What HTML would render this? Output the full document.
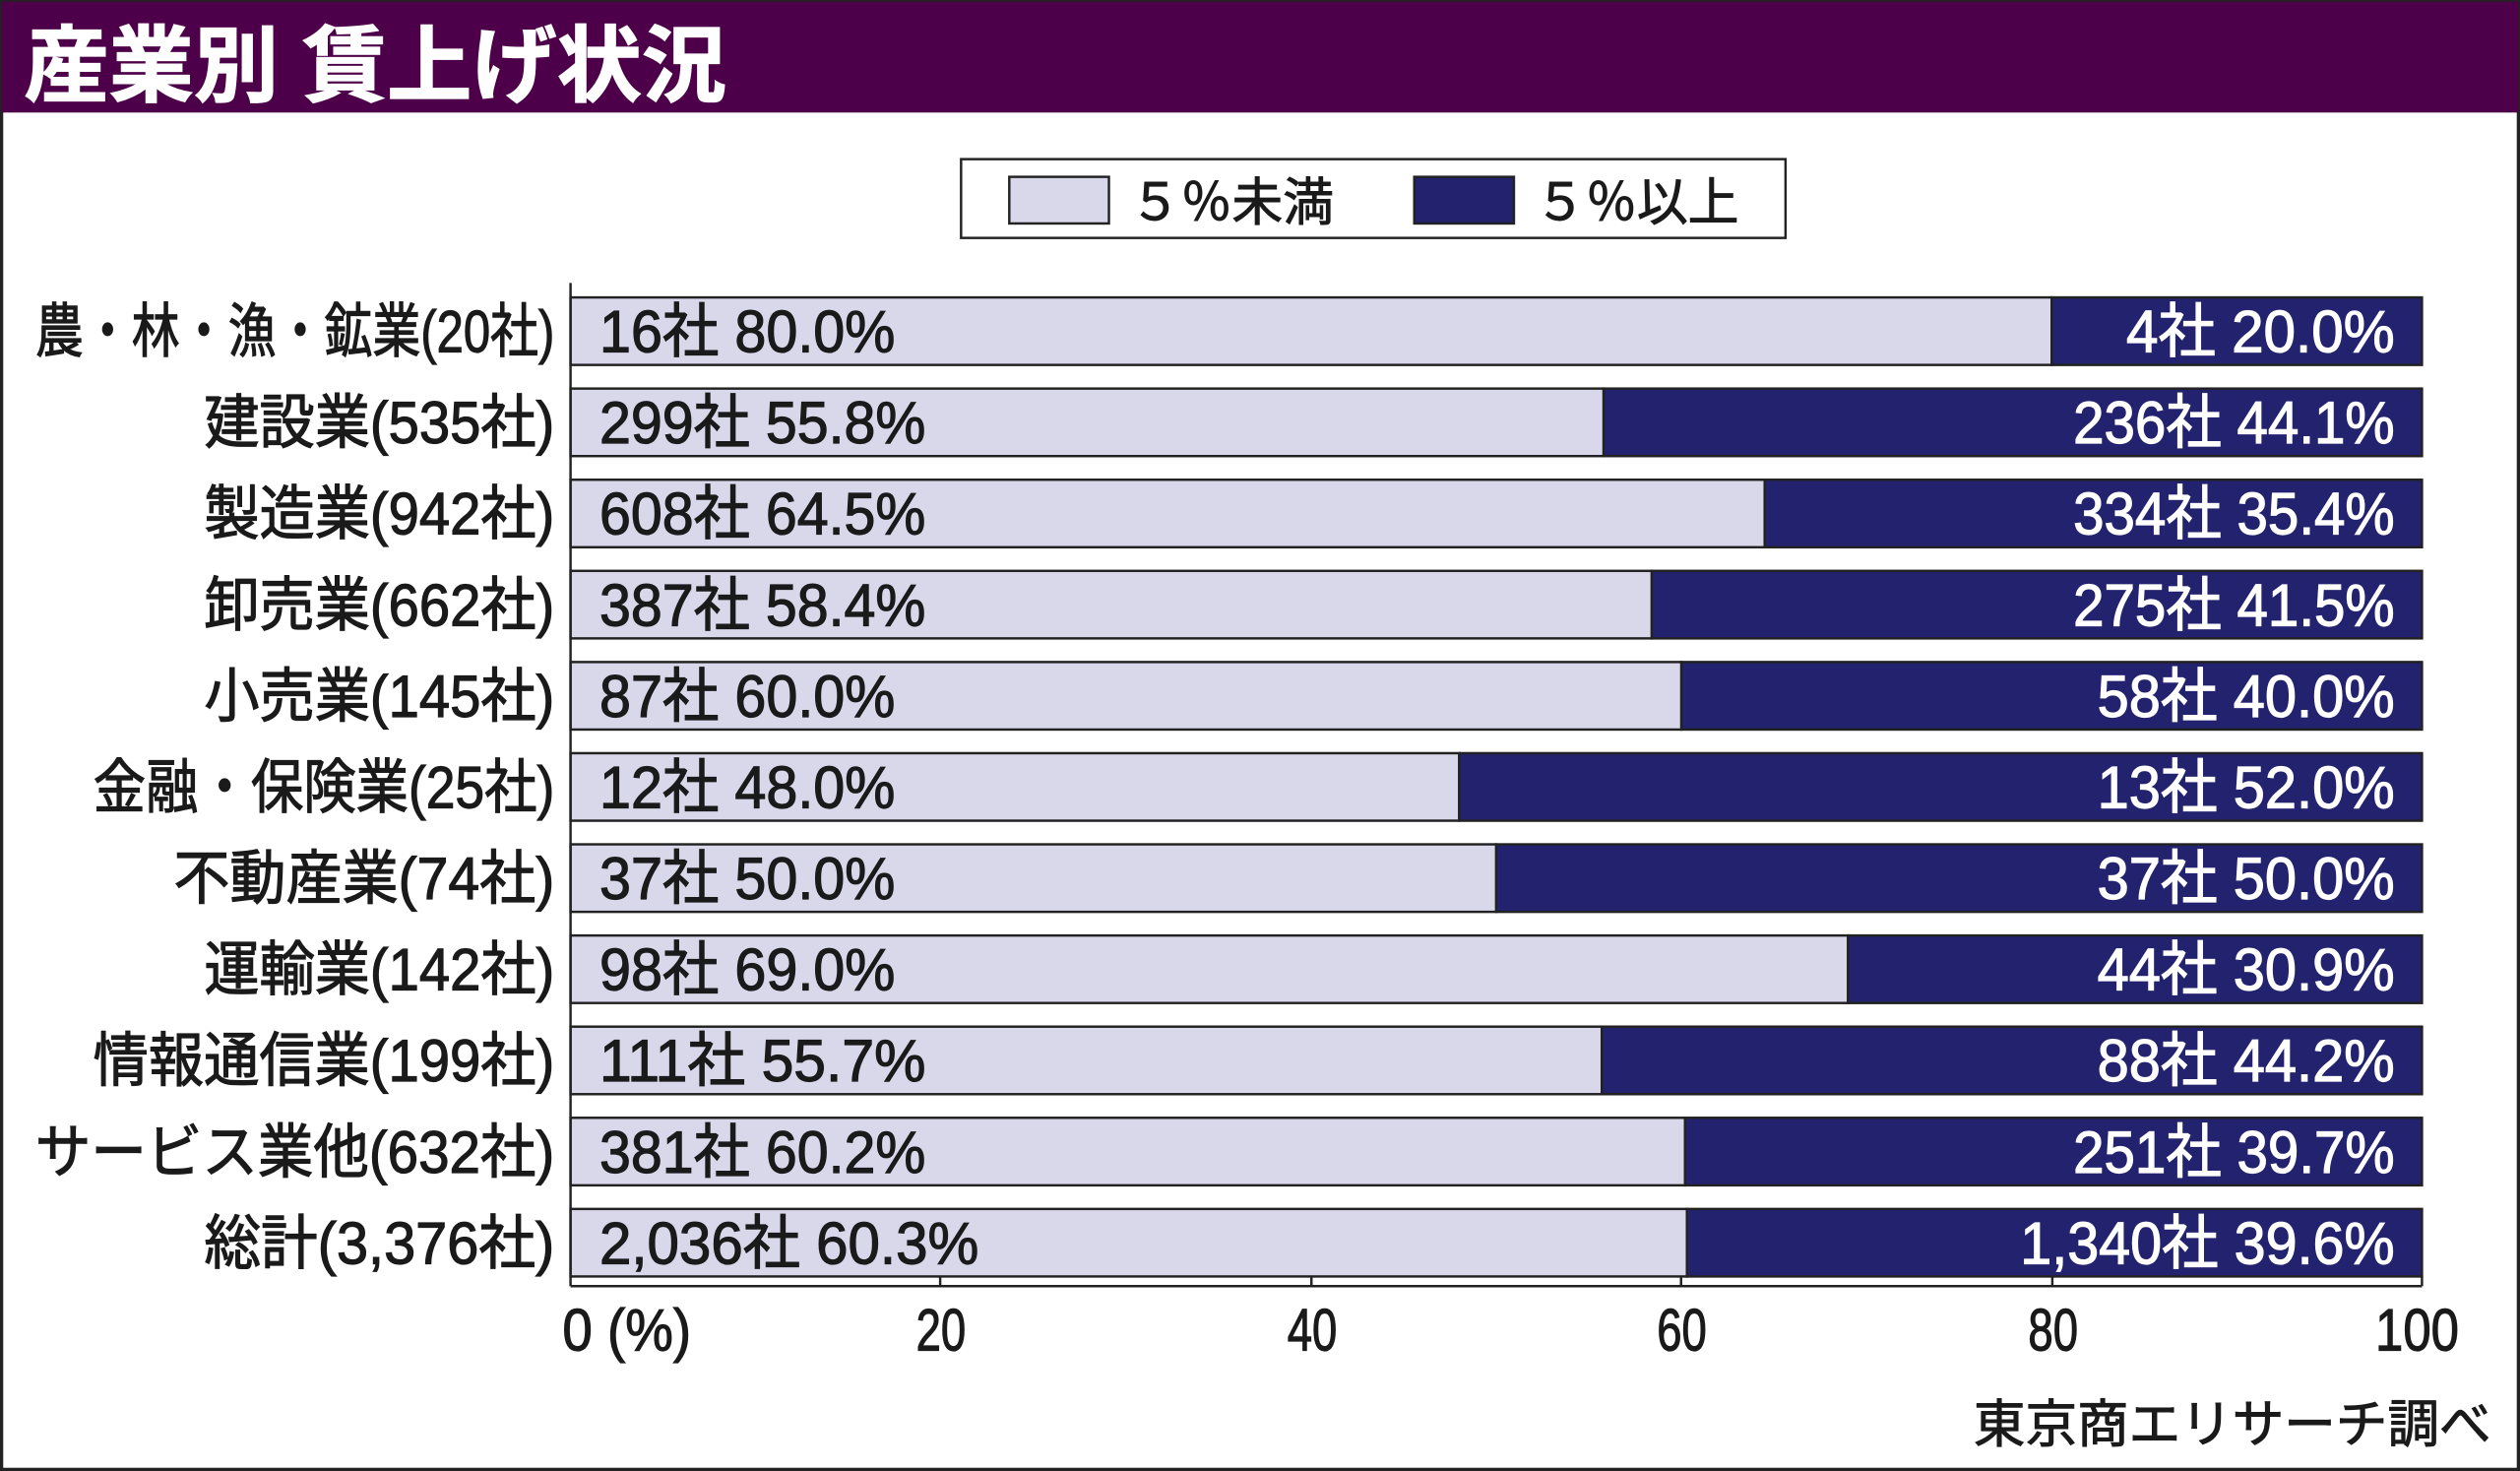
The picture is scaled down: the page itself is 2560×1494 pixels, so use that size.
<!DOCTYPE html>
<html><head><meta charset="utf-8"><style>
html,body{margin:0;padding:0;background:#fff}
svg{display:block}
text{font-family:"Liberation Sans","Noto Sans CJK JP",sans-serif}
</style></head><body>
<svg width="2560" height="1494" viewBox="0 0 1568 915" preserveAspectRatio="none" xmlns="http://www.w3.org/2000/svg">
<rect x="1" y="1" width="1566" height="913" fill="#fff" stroke="#222" stroke-width="2"/>
<rect x="1" y="1" width="1566" height="69" fill="#4d0049"/>
<text x="15" y="59" font-size="52" font-weight="bold" fill="#fff" stroke="#fff" stroke-width="0.8" textLength="437" lengthAdjust="spacingAndGlyphs">産業別 賃上げ状況</text>
<rect x="598" y="99" width="513" height="49" fill="#fff" stroke="#222" stroke-width="1.5"/>
<rect x="628" y="110" width="62" height="29" fill="#d9d7ea" stroke="#222" stroke-width="1.5"/>
<rect x="880" y="110" width="62" height="29" fill="#22226f" stroke="#222" stroke-width="1.5"/>
<g stroke="#1a1a1a" stroke-width="0.6">
<text x="703" y="137" font-size="32" fill="#1a1a1a" textLength="127" lengthAdjust="spacingAndGlyphs">５％未満</text>
<text x="955" y="137" font-size="32" fill="#1a1a1a" textLength="127" lengthAdjust="spacingAndGlyphs">５％以上</text>
</g>
<g id="bars" stroke="#222" stroke-width="1.5"></g>
<g id="lbl" font-size="37" fill="#1a1a1a" stroke="#1a1a1a" stroke-width="0.7"></g>
<line x1="355" y1="176" x2="355" y2="800" stroke="#222" stroke-width="1.5"/>
<line x1="355" y1="800" x2="1507" y2="800" stroke="#222" stroke-width="1.5"/>
<line x1="1507" y1="794" x2="1507" y2="800" stroke="#222" stroke-width="1.5"/>
<g stroke="#222" stroke-width="1.5">
<line x1="585" y1="794" x2="585" y2="800"/><line x1="816" y1="794" x2="816" y2="800"/>
<line x1="1046" y1="794" x2="1046" y2="800"/><line x1="1277" y1="794" x2="1277" y2="800"/>
</g>
<g font-size="37" fill="#1a1a1a" stroke="#1a1a1a" stroke-width="0.7">
<text x="350" y="840" textLength="80" lengthAdjust="spacingAndGlyphs">0 (%)</text>
<text x="570" y="840" textLength="31" lengthAdjust="spacingAndGlyphs">20</text>
<text x="801" y="840" textLength="31" lengthAdjust="spacingAndGlyphs">40</text>
<text x="1031" y="840" textLength="31" lengthAdjust="spacingAndGlyphs">60</text>
<text x="1262" y="840" textLength="31" lengthAdjust="spacingAndGlyphs">80</text>
<text x="1478" y="840" textLength="52" lengthAdjust="spacingAndGlyphs">100</text>
</g>
<text x="1228" y="897" font-size="32" fill="#1a1a1a" stroke="#1a1a1a" stroke-width="0.6" textLength="322" lengthAdjust="spacingAndGlyphs">東京商エリサーチ調べ</text>
</svg>
<script>
var d=[
["農・林・漁・鉱業(20社)",22,80.0,"16社 80.0%",557,"4社 20.0%",1323],
["建設業(535社)",127,55.8,"299社 55.8%",576,"236社 44.1%",1290],
["製造業(942社)",127,64.5,"608社 64.5%",576,"334社 35.4%",1290],
["卸売業(662社)",127,58.4,"387社 58.4%",576,"275社 41.5%",1290],
["小売業(145社)",127,60.0,"87社 60.0%",557,"58社 40.0%",1305],
["金融・保険業(25社)",58,48.0,"12社 48.0%",557,"13社 52.0%",1305],
["不動産業(74社)",108,50.0,"37社 50.0%",557,"37社 50.0%",1305],
["運輸業(142社)",127,69.0,"98社 69.0%",557,"44社 30.9%",1305],
["情報通信業(199社)",58,55.7,"111社 55.7%",576,"88社 44.2%",1305],
["サービス業他(632社)",22,60.2,"381社 60.2%",576,"251社 39.7%",1290],
["総計(3,376社)",127,60.3,"2,036社 60.3%",609,"1,340社 39.6%",1257]];
var ns="http://www.w3.org/2000/svg",b=document.getElementById("bars"),l=document.getElementById("lbl");
function el(p,t,a,tx){var e=document.createElementNS(ns,t);for(var k in a)e.setAttribute(k,a[k]);if(tx)e.textContent=tx;p.appendChild(e);}
d.forEach(function(r,i){var y=185+56.7*i,h=42,xm=355+11.52*r[2];
el(b,"rect",{x:355,y:y,width:xm-355,height:h,fill:"#d9d7ea"});
el(b,"rect",{x:xm,y:y,width:1507-xm,height:h,fill:"#22226f"});
var by=y+h/2+13;
el(l,"text",{x:r[1],y:by,textLength:345-r[1],lengthAdjust:"spacingAndGlyphs"},r[0]);
el(l,"text",{x:373,y:by,textLength:r[4]-373,lengthAdjust:"spacingAndGlyphs"},r[3]);
el(l,"text",{x:r[6],y:by,fill:"#fff",stroke:"#fff",textLength:1490-r[6],lengthAdjust:"spacingAndGlyphs"},r[5]);
});
</script>
</body></html>
